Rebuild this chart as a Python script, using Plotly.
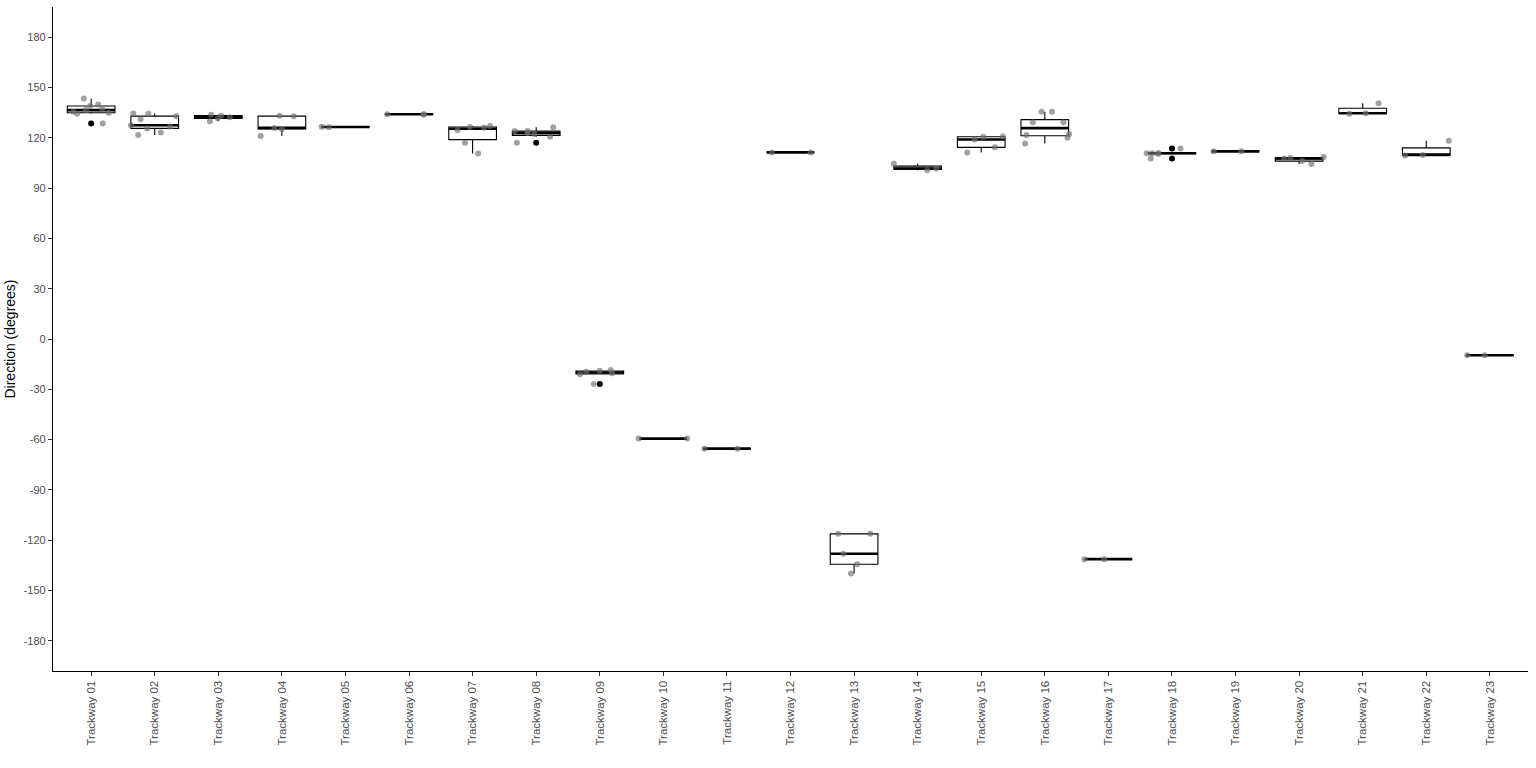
import numpy as np
import plotly.graph_objects as go

categories = [f"Trackway {i:02d}" for i in range(1, 24)]

t01 = [128.5, 134.4, 134.9, 135.5, 136.5, 137.0, 139.0, 139.9, 143.5]
t02 = [121.6, 123.2, 125.6, 126.8, 127.5, 131.1, 132.9, 134.3, 134.5]
t03 = [129.9, 131.6, 132.3, 133.2, 133.8]
t04 = [121.0, 125.3, 125.9, 132.9, 133.1]
t05 = [126.3, 126.6]
t06 = [133.9, 134.1, 134.0]
t07 = [110.7, 117.0, 124.5, 126.2, 126.5, 127.1]
t08 = [117.0, 120.6, 122.2, 122.8, 124.0, 124.0, 126.3]
t09 = [-26.8, -21.0, -20.5, -19.5, -18.9, -18.5]
t10 = [-59.4, -59.4]
t11 = [-65.4, -65.4]
t12 = [111.3, 111.3]
t13 = [-139.9, -134.3, -128.1, -116.2, -116.2]
t14 = [100.7, 101.7, 104.5]
t15 = [111.3, 114.3, 119.0, 120.6, 120.8]
t16 = [116.6, 120.0, 121.6, 122.2, 129.3, 129.3, 135.5, 135.5]
t17 = [-131.3, -131.3]
t18 = [107.7, 110.4, 110.8, 110.8, 111.0, 113.6]
t19 = [111.9, 111.9]
t20 = [104.3, 106.1, 107.7, 108.0, 108.5]
t21 = [134.4, 134.6, 140.6]
t22 = [109.5, 109.8, 118.2]
t23 = [-9.7, -9.7]

series = [t01, t02, t03, t04, t05, t06, t07, t08, t09, t10, t11, t12,
          t13, t14, t15, t16, t17, t18, t19, t20, t21, t22, t23]

y_ticks = [-180, -150, -120, -90, -60, -30, 0, 30, 60, 90, 120, 150, 180]
y_labels = [str(v) for v in y_ticks]

# ggplot-style statistics (type-7 quantiles, 1.5 IQR whiskers)
q1s, meds, q3s, lows, highs = [], [], [], [], []
out_x, out_y = [], []
pts_x, pts_y = [], []
for cat, vals in zip(categories, series):
    a = np.array(vals, dtype=float)
    q1, med, q3 = np.percentile(a, [25, 50, 75])
    iqr = q3 - q1
    lo_lim, hi_lim = q1 - 1.5 * iqr, q3 + 1.5 * iqr
    inside = a[(a >= lo_lim) & (a <= hi_lim)]
    q1s.append(q1); meds.append(med); q3s.append(q3)
    lows.append(inside.min()); highs.append(inside.max())
    for v in a[(a < lo_lim) | (a > hi_lim)]:
        out_x.append(cat); out_y.append(v)
    for v in a:
        pts_x.append(cat); pts_y.append(v)

fig = go.Figure()

fig.add_trace(go.Box(
    x=categories, q1=q1s, median=meds, q3=q3s,
    lowerfence=lows, upperfence=highs,
    boxpoints=False, width=0.75, whiskerwidth=0,
    fillcolor="white", line=dict(color="black", width=1.1),
    showlegend=False, hoverinfo="skip"))

fig.add_trace(go.Box(
    x=categories, q1=meds, median=meds, q3=meds,
    lowerfence=meds, upperfence=meds,
    boxpoints=False, width=0.75, whiskerwidth=0,
    fillcolor="rgba(0,0,0,0)", line=dict(color="black", width=2.6),
    showlegend=False, hoverinfo="skip"))

fig.add_trace(go.Scatter(
    x=out_x, y=out_y, mode="markers",
    marker=dict(color="black", size=6),
    showlegend=False, hoverinfo="skip"))

fig.add_trace(go.Box(
    x=pts_x, y=pts_y, boxpoints="all", jitter=1, pointpos=0, width=0.8,
    fillcolor="rgba(0,0,0,0)", line=dict(color="rgba(0,0,0,0)", width=0),
    marker=dict(color="rgba(110,110,110,0.65)", size=6),
    showlegend=False, hoverinfo="skip"))

fig.update_layout(
    width=1536, height=768,
    margin=dict(l=53, r=8, t=7, b=97),
    plot_bgcolor="white", paper_bgcolor="white",
    boxmode="overlay",
    font=dict(family="Liberation Sans, Arial, sans-serif", size=11, color="#4D4D4D"),
    showlegend=False,
)

fig.update_xaxes(
    type="category", categoryorder="array", categoryarray=categories,
    range=[-0.6, 22.6], automargin=False,
    showline=True, linecolor="black", linewidth=1.3, mirror=False,
    ticks="outside", ticklen=4, tickcolor="#333333", tickwidth=1.1,
    tickangle=-90, tickfont=dict(size=11.5, color="#4D4D4D"),
    showgrid=False, zeroline=False,
)

fig.update_yaxes(
    range=[-198, 198], automargin=False,
    tickvals=y_ticks, ticktext=y_labels,
    showline=True, linecolor="black", linewidth=1.3,
    ticks="outside", ticklen=4, tickcolor="#333333", tickwidth=1.1,
    tickfont=dict(size=11, color="#4D4D4D"),
    showgrid=False, zeroline=False,
    title=dict(text="Direction (degrees)", font=dict(size=14, color="black"), standoff=4),
)

fig.write_html(
    "out.html",
    config={"displayModeBar": False},
    post_script="document.body.style.margin='0';document.body.style.overflow='hidden';",
)
